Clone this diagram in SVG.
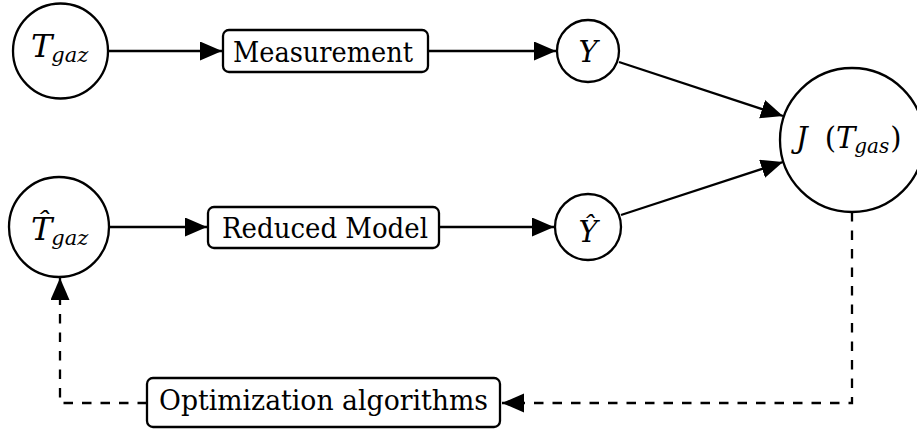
<svg xmlns="http://www.w3.org/2000/svg" width="917" height="430" viewBox="0 0 917 430">
<style>
.node{fill:#fff;stroke:#000;stroke-width:2.3}
.edge{fill:none;stroke:#000;stroke-width:2.3}
.dash{stroke-dasharray:9.5 9}
</style>
<defs>
<marker id="ah" markerUnits="userSpaceOnUse" markerWidth="24" markerHeight="20" refX="22" refY="9.5" orient="auto" viewBox="0 0 24 20">
<path d="M0,0 L22,9.5 L0,19 z" fill="#000" stroke="none"/>
</marker>
</defs>
<g id="edges">
<line class="edge" x1="108" y1="51" x2="222" y2="51" marker-end="url(#ah)"/>
<line class="edge" x1="428" y1="51" x2="556" y2="51" marker-end="url(#ah)"/>
<line class="edge" x1="109" y1="227" x2="207" y2="227" marker-end="url(#ah)"/>
<line class="edge" x1="439" y1="227" x2="554" y2="227" marker-end="url(#ah)"/>
<line class="edge" x1="619" y1="62" x2="783" y2="116" marker-end="url(#ah)"/>
<line class="edge" x1="621" y1="215" x2="783" y2="162" marker-end="url(#ah)"/>
<path class="edge dash" d="M852,212 L852,403 L502,403" marker-end="url(#ah)"/>
<path class="edge dash" d="M147,403 L60,403 L60,278" marker-end="url(#ah)"/>
</g>
<g font-family="DejaVu Serif, Liberation Serif, serif" fill="#000">
<g id="Tgaz">
<circle class="node" cx="60.5" cy="51" r="47.5"/>
<text x="31" y="57" font-size="32" font-style="italic">T<tspan font-size="21" dx="-1" dy="5">gaz</tspan></text>
</g>
<g id="measurement">
<rect class="node" x="223" y="30" width="205" height="42" rx="6"/>
<text x="233" y="62" font-size="27" textLength="180" lengthAdjust="spacingAndGlyphs">Measurement</text>
</g>
<g id="Y">
<circle class="node" cx="588" cy="51" r="31"/>
<text x="588" y="62" font-size="29" font-style="italic" text-anchor="middle">Y</text>
</g>
<g id="That">
<circle class="node" cx="59" cy="227" r="50"/>
<text x="31" y="240" font-size="32" font-style="italic">T̂<tspan font-size="21" dx="-1" dy="5">gaz</tspan></text>
</g>
<g id="reduced">
<rect class="node" x="208" y="207" width="231" height="41" rx="6"/>
<text x="222" y="238" font-size="27" textLength="206" lengthAdjust="spacingAndGlyphs">Reduced Model</text>
</g>
<g id="Yhat">
<circle class="node" cx="588" cy="227" r="33"/>
<text x="588" y="242" font-size="29" font-style="italic" text-anchor="middle">Ŷ</text>
</g>
<g id="J">
<circle class="node" cx="852" cy="140" r="72"/>
<text x="796" y="148" font-size="29" font-style="italic">J<tspan font-style="normal" dx="17">(</tspan>T<tspan font-size="20" dx="-1" dy="5">gas</tspan><tspan font-style="normal" dx="1" dy="-5">)</tspan></text>
</g>
<g id="opt">
<rect class="node" x="147" y="378" width="353" height="49" rx="6"/>
<text x="159" y="410" font-size="27" textLength="329" lengthAdjust="spacingAndGlyphs">Optimization algorithms</text>
</g>
</g>
</svg>
